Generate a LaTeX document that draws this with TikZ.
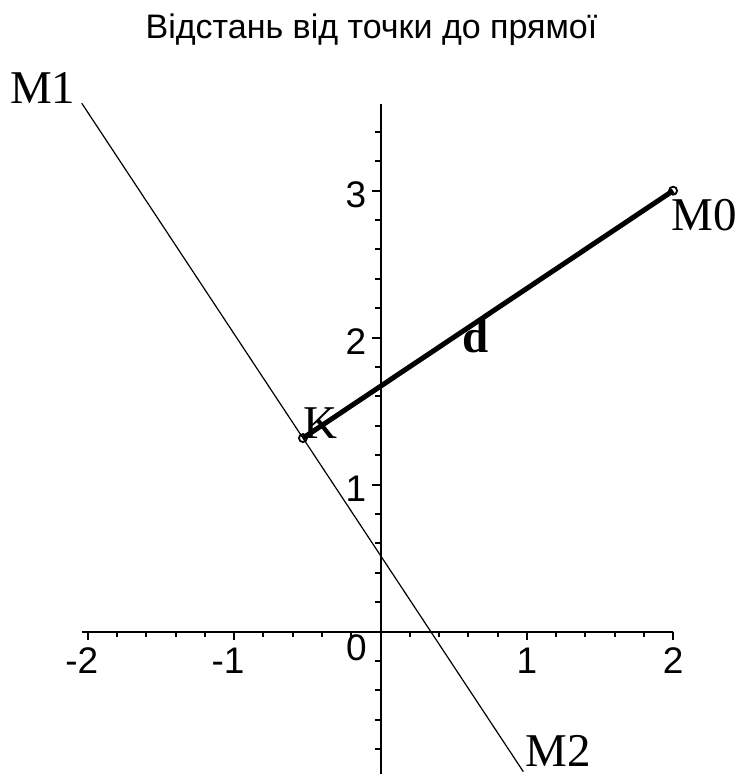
\documentclass[tikz,border=0pt]{standalone}
\usepackage{fontspec}
\setmainfont{Liberation Serif}
\newfontfamily\plotsans{Liberation Sans}
\begin{document}
\begin{tikzpicture}[x=73.15pt,y=73.5pt,
  axisline/.style={line width=1pt},
  tickline/.style={line width=1pt},
  thinline/.style={line width=0.6pt},
  thickseg/.style={line width=2.5pt},
  ptmark/.style={line width=0.9pt},
  titlestyle/.style={font=\plotsans\fontsize{17}{19}\selectfont, inner sep=0pt},
  ticklab/.style={font=\plotsans\fontsize{18.5}{20}\selectfont, inner sep=0pt},
  ptlab/.style={font=\fontsize{23.5}{26}\selectfont, inner sep=0pt}]
\useasboundingbox (-190.25pt,-71.15pt) rectangle (179.25pt,315.85pt);

% title
\node[titlestyle, anchor=base] (title) at (-0.0615,4.032) {Відстань від точки до прямої};

% axes
\coordinate (xl) at (-2.042,0);
\coordinate (xr) at (2,0);
\coordinate (yb) at (0,-0.968);
\coordinate (yt) at (0,3.59);
\draw[axisline] (xl) -- (xr);
\draw[axisline] (yb) -- (yt);

% ticks
\foreach \i in {-10,...,10} {\draw[tickline] (\i/5,0) -- ++(0,-2.8pt);}
\foreach \i in {-2,-1,1,2} {\draw[tickline] (\i,0) -- ++(0,-4.2pt);}
\foreach \i in {-4,...,17} {\draw[tickline] (0,\i/5) -- ++(-2.8pt,0);}
\foreach \i in {1,2,3} {\draw[tickline] (0,\i) -- ++(-4.2pt,0);}

% tick labels
\node[ticklab, anchor=base] (lxm2) at (-2,-0.283) {\llap{-}2};
\node[ticklab, anchor=base] (lxm1) at (-1,-0.283) {\llap{-}1};
\node[ticklab, anchor=base] (lx0) at (-0.164,-0.193) {0};
\node[ticklab, anchor=base] (lx1) at (1,-0.283) {1};
\node[ticklab, anchor=base] (lx2) at (2,-0.283) {2};
\node[ticklab, anchor=base east] (ly1) at (-0.095,0.887) {1};
\node[ticklab, anchor=base east] (ly2) at (-0.095,1.887) {2};
\node[ticklab, anchor=base east] (ly3) at (-0.095,2.887) {3};

% points
\coordinate (M1) at (-2.042,3.595);
\coordinate (M2) at (0.976,-0.952);
\coordinate (K) at (-0.53,1.317);
\coordinate (M0) at (2,3);

\draw[thinline] (M1) -- (M2);
\draw[thickseg] (K) -- (M0);
\draw[ptmark] (K) circle (2pt);
\draw[ptmark] (M0) circle (2pt);

% labels
\node[ptlab, anchor=base east] (lM1) at ([xshift=-3pt]M1) {M1};
\node[ptlab, anchor=base west] (lM0) at ([xshift=-1pt,yshift=-20pt]M0) {M0};
\node[ptlab, anchor=base west] (lK) at (K) {K};
\node[ptlab, anchor=base west] (lM2) at ([xshift=0.8pt,yshift=2.5pt]M2) {M2};
\node[ptlab, anchor=base west] (ld) at (0.557,1.896) {\textbf{d}};
\end{tikzpicture}
\end{document}
